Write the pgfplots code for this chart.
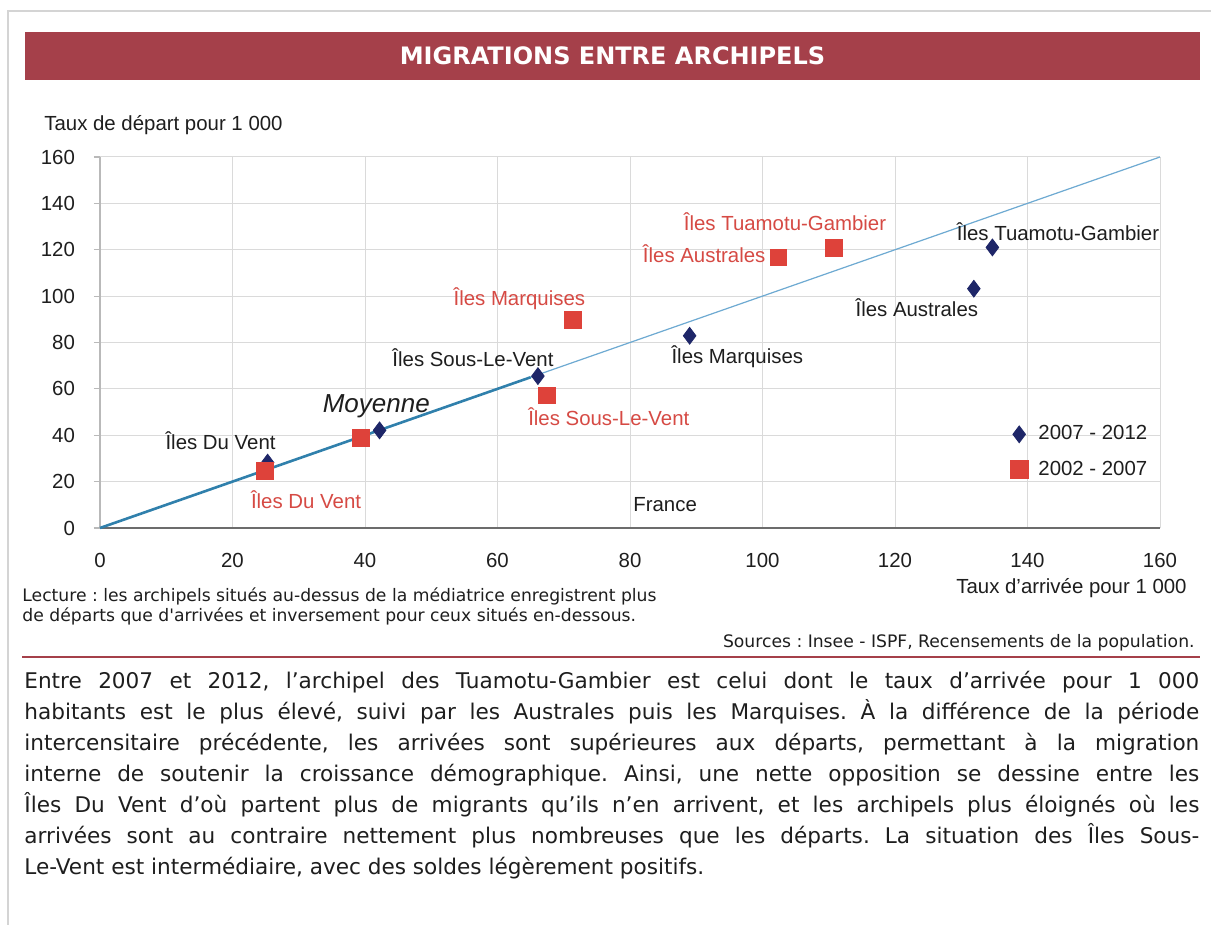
\documentclass[border=0pt]{standalone}
\usepackage{fontspec}
\setmainfont{Liberation Sans}
\newfontfamily\dvsans{DejaVu Sans}
\usepackage{pgfplots}
\pgfplotsset{compat=1.18}
\frenchspacing

\definecolor{banner}{RGB}{165,64,74}
\definecolor{sqred}{RGB}{222,66,58}
\definecolor{lblred}{RGB}{214,74,68}
\definecolor{navy}{RGB}{30,38,104}
\definecolor{diag}{RGB}{110,170,210}
\definecolor{diagdark}{RGB}{48,128,172}
\definecolor{gridc}{RGB}{218,218,218}
\definecolor{framec}{RGB}{212,212,212}
\definecolor{inkc}{RGB}{30,30,30}

\newcommand{\chartfont}{\fontsize{10.2}{12}\selectfont}
\newcommand{\parline}[1]{\makebox[587.5pt][s]{#1}}

\begin{document}
\begin{tikzpicture}[x=0.5pt,y=0.5pt]
\path[use as bounding box, fill=white] (0,0) rectangle (1211,925);
\coordinate (plotorigin) at (100,397);

% page frame
\draw[framec, line width=0.8pt] (8,0) -- (8,914) -- (1211,914);

% title banner
\fill[banner] (25,845) rectangle (1200,893);
\node[text=white, font=\dvsans\bfseries\fontsize{12}{14}\selectfont] at (612.5,869) {MIGRATIONS ENTRE ARCHIPELS};

% y axis title
\node[anchor=west, inner sep=0pt, text=inkc, font=\chartfont] at (44,800) {Taux de départ pour 1 000};

\begin{axis}[
  at={(plotorigin)}, anchor=south west,
  width=530pt, height=185.5pt, scale only axis,
  xmin=0, xmax=160, ymin=0, ymax=160,
  xtick={0,20,...,160}, ytick={0,20,...,160},
  grid=major, grid style={gridc, line width=0.5pt},
  axis lines*=left,
  x axis line style={draw=gray!85!black, line width=1.1pt},
  y axis line style={draw=gray!55, line width=0.6pt},
  tick align=outside, major tick length=3pt,
  xtick style={draw=none},
  ytick style={draw=gray!55, line width=0.6pt},
  tick label style={font=\chartfont, text=inkc},
  /pgf/number format/assume math mode=true,
  yticklabel style={xshift=-6pt},
  xticklabel style={yshift=-6pt},
  clip=false,
  legend style={at={(axis cs:137.3,46)}, anchor=north west, draw=none, fill=none,
    font=\chartfont, text=inkc, row sep=5pt, inner sep=0pt,
    /tikz/every odd column/.append style={column sep=3pt}},
  legend cell align=left,
]
% bisector y = x
\addplot[diag, line width=0.6pt, forget plot] coordinates {(0,0) (160,160)};
\addplot[diagdark, line width=1.3pt, forget plot] coordinates {(0,0) (65,65)};

% 2007 - 2012
\addplot[only marks, mark=diamond*, mark size=4.2pt, draw=navy, fill=navy]
  coordinates {(25.3,28.2) (42.2,42.1) (66.1,65.5) (89.0,82.9) (131.9,103.2) (134.7,121.0)};
\addlegendentry{2007 - 2012}

% 2002 - 2007
\addplot[only marks, mark=square*, mark size=4.2pt, draw=sqred, fill=sqred,
  legend image post style={mark size=4.6pt}]
  coordinates {(24.9,24.6) (39.4,38.8) (67.4,57.2) (71.4,89.9) (102.4,116.7) (110.8,120.7)};
\addlegendentry{2002 - 2007}

% labels 2007 - 2012
\node[text=inkc, font=\chartfont] at (axis cs:18.2,37.8) {Îles Du Vent};
\node[text=inkc, font=\chartfont] at (axis cs:56.3,73.3) {Îles Sous-Le-Vent};
\node[text=inkc, font=\chartfont] at (axis cs:96.2,73.9) {Îles Marquises};
\node[text=inkc, font=\chartfont] at (axis cs:123.3,94.9) {Îles Australes};
\node[text=inkc, font=\chartfont] at (axis cs:144.6,127.8) {Îles Tuamotu-Gambier};
\node[text=inkc, font=\chartfont] at (axis cs:85.3,9.9) {France};
\node[text=inkc, font=\itshape\fontsize{13}{15}\selectfont] at (axis cs:41.7,52.4) {Moyenne};

% labels 2002 - 2007
\node[text=lblred, font=\chartfont] at (axis cs:31.1,12.2) {Îles Du Vent};
\node[text=lblred, font=\chartfont] at (axis cs:76.8,47.8) {Îles Sous-Le-Vent};
\node[text=lblred, font=\chartfont] at (axis cs:63.3,99.0) {Îles Marquises};
\node[text=lblred, font=\chartfont] at (axis cs:91.2,118.1) {Îles Australes};
\node[text=lblred, font=\chartfont] at (axis cs:103.4,131.9) {Îles Tuamotu-Gambier};
\end{axis}

% x axis title
\node[anchor=east, inner sep=0pt, text=inkc, font=\chartfont] at (1187,337) {Taux d'arrivée pour 1 000};

% reading note and sources
\begin{scope}[font=\dvsans\fontsize{8.6}{10}\selectfont, text=inkc]
\node[anchor=base west, inner sep=0pt] at (22,323) {Lecture : les archipels situés au-dessus de la médiatrice enregistrent plus};
\node[anchor=base west, inner sep=0pt] at (22,303) {de départs que d'arrivées et inversement pour ceux situés en-dessous.};
\node[anchor=base east, inner sep=0pt] at (1195,277) {Sources : Insee - ISPF, Recensements de la population.};
\end{scope}
\draw[banner, line width=0.8pt] (22,268) -- (1200,268);

% commentary
\begin{scope}[font=\dvsans\fontsize{10.8}{13}\selectfont, text=inkc]
\node[anchor=base west, inner sep=0pt] at (24,236) {\parline{Entre 2007 et 2012, l’archipel des Tuamotu-Gambier est celui dont le taux d’arrivée pour 1 000}};
\node[anchor=base west, inner sep=0pt] at (24,205) {\parline{habitants est le plus élevé, suivi par les Australes puis les Marquises. À la différence de la période}};
\node[anchor=base west, inner sep=0pt] at (24,174) {\parline{intercensitaire précédente, les arrivées sont supérieures aux départs, permettant à la migration}};
\node[anchor=base west, inner sep=0pt] at (24,143) {\parline{interne de soutenir la croissance démographique. Ainsi, une nette opposition se dessine entre les}};
\node[anchor=base west, inner sep=0pt] at (24,112) {\parline{Îles Du Vent d’où partent plus de migrants qu’ils n’en arrivent, et les archipels plus éloignés où les}};
\node[anchor=base west, inner sep=0pt] at (24,81) {\parline{arrivées sont au contraire nettement plus nombreuses que les départs. La situation des Îles Sous-}};
\node[anchor=base west, inner sep=0pt] at (24,50) {Le-Vent est intermédiaire, avec des soldes légèrement positifs.};
\end{scope}
\end{tikzpicture}
\end{document}
